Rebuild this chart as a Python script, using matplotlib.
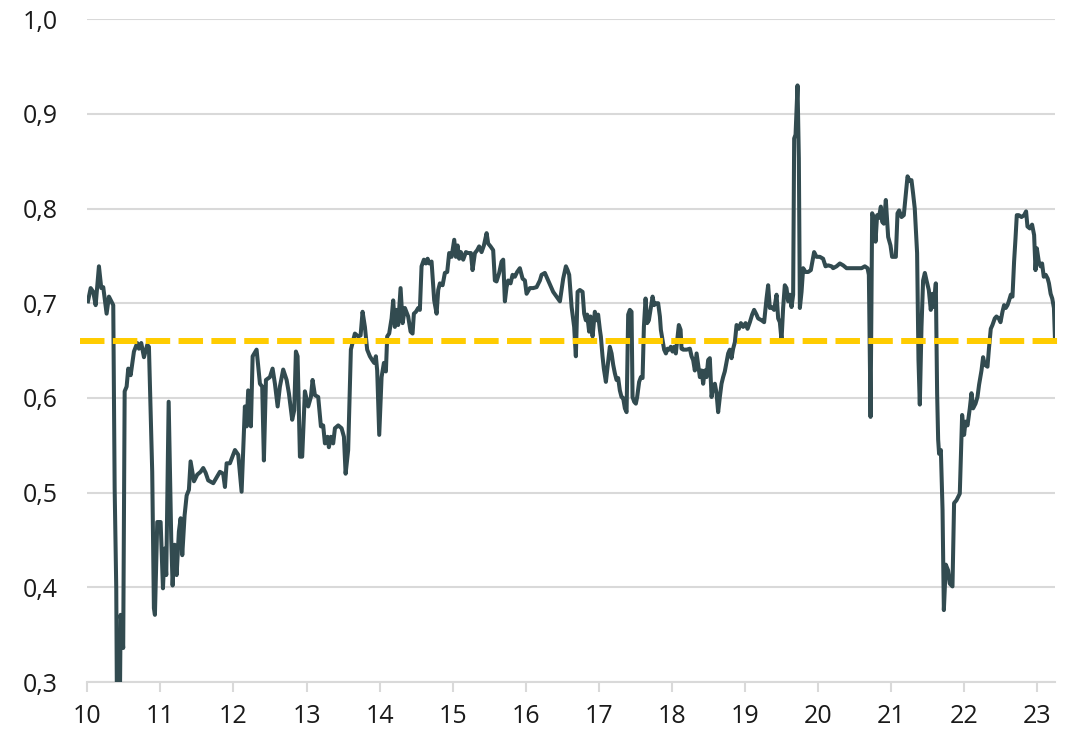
import matplotlib
matplotlib.use("Agg")
import matplotlib.pyplot as plt
from matplotlib.ticker import FuncFormatter

plt.rcParams['font.family'] = ['Open Sans', 'DejaVu Sans']

# series (x in years, 10 = 2010)
years = [
    10.01, 10.047, 10.082, 10.115, 10.16, 10.192, 10.219, 10.265, 10.297, 10.356,
    10.375, 10.397, 10.406, 10.447, 10.457, 10.492, 10.512, 10.539, 10.561, 10.594,
    10.639, 10.684, 10.707, 10.739, 10.776, 10.821, 10.844, 10.889, 10.912, 10.926,
    10.958, 11.004, 11.036, 11.059, 11.081, 11.114, 11.149, 11.168, 11.196, 11.223,
    11.254, 11.278, 11.30, 11.332, 11.36, 11.391, 11.414, 11.46, 11.505, 11.551,
    11.587, 11.62, 11.655, 11.724, 11.815, 11.86, 11.884, 11.907, 11.952, 12.021,
    12.066, 12.112, 12.157, 12.181, 12.202, 12.239, 12.263, 12.317, 12.363, 12.394,
    12.417, 12.445, 12.499, 12.536, 12.568, 12.605, 12.636, 12.681, 12.728, 12.759,
    12.804, 12.832, 12.855, 12.878, 12.91, 12.941, 12.978, 13.023, 13.06, 13.083,
    13.115, 13.16, 13.197, 13.228, 13.252, 13.289, 13.306, 13.334, 13.365, 13.389,
    13.434, 13.48, 13.512, 13.535, 13.57, 13.607, 13.662, 13.707, 13.74, 13.767,
    13.799, 13.83, 13.867, 13.899, 13.926, 13.949, 13.967, 13.995, 14.027, 14.059,
    14.086, 14.104, 14.131, 14.164, 14.186, 14.209, 14.232, 14.254, 14.287, 14.315,
    14.346, 14.391, 14.424, 14.451, 14.469, 14.497, 14.528, 14.551, 14.574, 14.606,
    14.633, 14.657, 14.679, 14.711, 14.747, 14.78, 14.802, 14.825, 14.862, 14.893,
    14.925, 14.952, 14.985, 15.021, 15.044, 15.067, 15.089, 15.112, 15.144, 15.181,
    15.212, 15.249, 15.272, 15.304, 15.335, 15.362, 15.395, 15.427, 15.464, 15.486,
    15.518, 15.554, 15.577, 15.60, 15.636, 15.669, 15.691, 15.714, 15.737, 15.759,
    15.792, 15.819, 15.851, 15.882, 15.919, 15.956, 15.988, 16.011, 16.056, 16.101,
    16.148, 16.193, 16.216, 16.261, 16.306, 16.375, 16.421, 16.467, 16.512, 16.549,
    16.572, 16.594, 16.627, 16.662, 16.685, 16.709, 16.74, 16.777, 16.799, 16.822,
    16.84, 16.867, 16.886, 16.914, 16.945, 16.968, 16.99, 17.014, 17.027, 17.05,
    17.068, 17.096, 17.127, 17.15, 17.174, 17.196, 17.219, 17.242, 17.264, 17.287,
    17.31, 17.332, 17.356, 17.379, 17.401, 17.424, 17.447, 17.461, 17.483, 17.506,
    17.524, 17.551, 17.575, 17.598, 17.616, 17.639, 17.661, 17.684, 17.707, 17.735,
    17.756, 17.78, 17.811, 17.835, 17.848, 17.871, 17.893, 17.917, 17.94, 17.962,
    17.985, 18.008, 18.03, 18.053, 18.077, 18.094, 18.118, 18.131, 18.153, 18.20,
    18.245, 18.268, 18.29, 18.313, 18.337, 18.358, 18.382, 18.405, 18.427, 18.45,
    18.473, 18.495, 18.518, 18.542, 18.564, 18.587, 18.61, 18.632, 18.655, 18.678,
    18.70, 18.723, 18.747, 18.769, 18.792, 18.815, 18.837, 18.861, 18.884, 18.915,
    18.943, 18.974, 19.007, 19.034, 19.066, 19.097, 19.124, 19.157, 19.179, 19.226,
    19.261, 19.294, 19.316, 19.339, 19.362, 19.398, 19.431, 19.453, 19.476, 19.499,
    19.521, 19.544, 19.567, 19.59, 19.613, 19.636, 19.658, 19.672, 19.691, 19.718,
    19.736, 19.75, 19.773, 19.795, 19.828, 19.863, 19.90, 19.945, 19.978, 20.023,
    20.068, 20.101, 20.137, 20.183, 20.205, 20.252, 20.297, 20.342, 20.389, 20.457,
    20.526, 20.594, 20.639, 20.676, 20.694, 20.717, 20.739, 20.762, 20.785, 20.807,
    20.83, 20.858, 20.876, 20.899, 20.926, 20.958, 20.99, 21.012, 21.063, 21.086,
    21.108, 21.141, 21.172, 21.195, 21.223, 21.254, 21.277, 21.299, 21.322, 21.354,
    21.373, 21.391, 21.414, 21.436, 21.46, 21.483, 21.514, 21.541, 21.565, 21.582,
    21.61, 21.628, 21.642, 21.655, 21.679, 21.702, 21.72, 21.747, 21.778, 21.801,
    21.838, 21.86, 21.893, 21.938, 21.97, 21.997, 22.016, 22.044, 22.075, 22.098,
    22.12, 22.153, 22.18, 22.202, 22.235, 22.257, 22.28, 22.317, 22.339, 22.362,
    22.385, 22.417, 22.44, 22.471, 22.495, 22.522, 22.544, 22.567, 22.591, 22.613,
    22.636, 22.659, 22.681, 22.70, 22.718, 22.745, 22.782, 22.818, 22.845, 22.864,
    22.896, 22.927, 22.955, 22.974, 22.992, 23.019, 23.043, 23.064, 23.087, 23.114,
    23.141, 23.158, 23.181, 23.203, 23.226, 23.24,
]
ratio = [
    0.702, 0.716, 0.712, 0.698, 0.739, 0.716, 0.717, 0.689, 0.707, 0.698,
    0.505, 0.399, 0.28, 0.28, 0.371, 0.336, 0.607, 0.612, 0.631, 0.624,
    0.649, 0.658, 0.652, 0.658, 0.643, 0.656, 0.654, 0.522, 0.378, 0.371,
    0.469, 0.469, 0.399, 0.441, 0.413, 0.596, 0.452, 0.402, 0.445, 0.413,
    0.459, 0.473, 0.434, 0.476, 0.497, 0.503, 0.533, 0.512, 0.519, 0.522,
    0.526, 0.521, 0.513, 0.510, 0.522, 0.520, 0.506, 0.531, 0.531, 0.545,
    0.540, 0.501, 0.591, 0.570, 0.608, 0.570, 0.644, 0.651, 0.615, 0.612,
    0.534, 0.619, 0.622, 0.631, 0.615, 0.591, 0.612, 0.630, 0.619, 0.605,
    0.577, 0.587, 0.649, 0.644, 0.538, 0.538, 0.607, 0.591, 0.601, 0.619,
    0.603, 0.601, 0.570, 0.571, 0.552, 0.559, 0.548, 0.559, 0.552, 0.568,
    0.571, 0.568, 0.559, 0.520, 0.545, 0.651, 0.668, 0.665, 0.666, 0.691,
    0.675, 0.651, 0.644, 0.640, 0.637, 0.644, 0.629, 0.561, 0.622, 0.637,
    0.628, 0.665, 0.668, 0.684, 0.703, 0.675, 0.693, 0.677, 0.716, 0.679,
    0.695, 0.686, 0.670, 0.668, 0.689, 0.691, 0.695, 0.693, 0.739, 0.746,
    0.742, 0.747, 0.742, 0.744, 0.703, 0.689, 0.714, 0.721, 0.719, 0.732,
    0.733, 0.753, 0.749, 0.767, 0.749, 0.761, 0.747, 0.754, 0.746, 0.754,
    0.753, 0.753, 0.735, 0.753, 0.756, 0.760, 0.754, 0.761, 0.774, 0.763,
    0.760, 0.756, 0.724, 0.723, 0.732, 0.744, 0.746, 0.702, 0.717, 0.724,
    0.721, 0.730, 0.728, 0.733, 0.737, 0.726, 0.724, 0.710, 0.716, 0.716,
    0.717, 0.724, 0.730, 0.732, 0.724, 0.712, 0.707, 0.702, 0.726, 0.739,
    0.735, 0.730, 0.696, 0.675, 0.644, 0.712, 0.714, 0.712, 0.689, 0.682,
    0.688, 0.670, 0.686, 0.665, 0.691, 0.682, 0.688, 0.672, 0.665, 0.644,
    0.631, 0.617, 0.638, 0.654, 0.647, 0.635, 0.626, 0.619, 0.621, 0.608,
    0.601, 0.600, 0.589, 0.585, 0.688, 0.693, 0.691, 0.601, 0.596, 0.594,
    0.601, 0.617, 0.622, 0.621, 0.675, 0.705, 0.679, 0.682, 0.693, 0.707,
    0.698, 0.700, 0.700, 0.686, 0.672, 0.661, 0.651, 0.647, 0.652, 0.651,
    0.654, 0.649, 0.654, 0.647, 0.665, 0.677, 0.672, 0.652, 0.651, 0.651,
    0.652, 0.644, 0.640, 0.629, 0.647, 0.635, 0.622, 0.629, 0.615, 0.629,
    0.622, 0.640, 0.642, 0.601, 0.612, 0.615, 0.605, 0.585, 0.601, 0.615,
    0.622, 0.628, 0.638, 0.647, 0.651, 0.642, 0.652, 0.659, 0.677, 0.673,
    0.679, 0.675, 0.679, 0.673, 0.680, 0.688, 0.693, 0.688, 0.684, 0.682,
    0.680, 0.705, 0.719, 0.695, 0.696, 0.693, 0.709, 0.684, 0.680, 0.661,
    0.695, 0.719, 0.716, 0.702, 0.709, 0.696, 0.709, 0.874, 0.878, 0.930,
    0.853, 0.695, 0.712, 0.737, 0.733, 0.733, 0.735, 0.754, 0.749, 0.749,
    0.747, 0.739, 0.740, 0.739, 0.737, 0.739, 0.742, 0.740, 0.737, 0.737,
    0.737, 0.737, 0.739, 0.737, 0.730, 0.580, 0.795, 0.790, 0.765, 0.793,
    0.790, 0.802, 0.786, 0.784, 0.809, 0.770, 0.761, 0.749, 0.749, 0.795,
    0.798, 0.791, 0.793, 0.812, 0.834, 0.829, 0.830, 0.816, 0.800, 0.753,
    0.640, 0.593, 0.675, 0.724, 0.732, 0.724, 0.714, 0.693, 0.710, 0.696,
    0.721, 0.605, 0.556, 0.541, 0.545, 0.482, 0.376, 0.424, 0.418, 0.404,
    0.401, 0.489, 0.492, 0.499, 0.582, 0.561, 0.575, 0.571, 0.589, 0.605,
    0.589, 0.594, 0.601, 0.614, 0.629, 0.643, 0.635, 0.633, 0.654, 0.673,
    0.677, 0.684, 0.686, 0.684, 0.680, 0.691, 0.698, 0.695, 0.698, 0.703,
    0.709, 0.707, 0.744, 0.768, 0.793, 0.793, 0.791, 0.793, 0.797, 0.781,
    0.779, 0.783, 0.772, 0.735, 0.758, 0.744, 0.739, 0.742, 0.728, 0.730,
    0.726, 0.721, 0.710, 0.705, 0.695, 0.663,
]
average = 0.66
xticks = list(range(10, 24))
yticks = [0.3, 0.4, 0.5, 0.6, 0.7, 0.8, 0.9, 1.0]

fig = plt.figure(figsize=(10.77, 7.35), dpi=100)
ax = fig.add_axes([0.081, 0.072, 0.899, 0.902])

ax.plot(years, ratio, color='#324b50', linewidth=2.9, solid_joinstyle='round', zorder=3)
ax.plot([9.9, 23.36], [average, average], color='#ffcc00', linewidth=4.3,
        dashes=(4.1, 1.4), clip_on=False, zorder=4)

ax.set_xlim(10, 23.247)
ax.set_ylim(0.3, 1.0)
ax.set_xticks(xticks)
ax.set_yticks(yticks)
ax.yaxis.set_major_formatter(FuncFormatter(lambda v, p: ('%.1f' % v).replace('.', ',')))

ax.grid(axis='y', color='#d9d9d9', linewidth=1.5)
ax.set_axisbelow(True)
for s in ['top', 'right', 'left']:
    ax.spines[s].set_visible(False)
ax.spines['bottom'].set_color('#d9d9d9')
ax.spines['bottom'].set_linewidth(1.5)

ax.tick_params(axis='x', length=7, width=1.5, color='#d9d9d9', pad=9,
               labelsize=18, labelcolor='#1a1a1a')
ax.tick_params(axis='y', length=0, pad=21, labelsize=18, labelcolor='#1a1a1a')

fig.savefig('out.png', dpi=100)
